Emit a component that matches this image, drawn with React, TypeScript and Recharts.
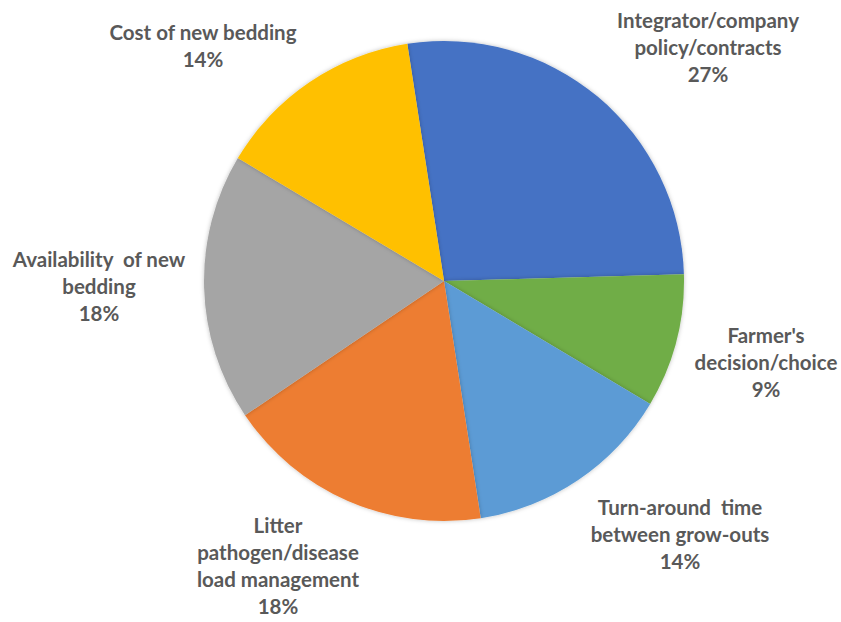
import { Cell, Pie, PieChart } from "recharts";

const categories = [
  "Integrator/company\npolicy/contracts",
  "Farmer's\ndecision/choice",
  "Turn-around  time\nbetween grow-outs",
  "Litter\npathogen/disease\nload management",
  "Availability  of new\nbedding",
  "Cost of new bedding"
];
const shares = [27, 9, 14, 18, 18, 14];
const colors = ["#4472C4", "#70AD47", "#5B9BD5", "#ED7D31", "#A5A5A5", "#FFC000"];

// label block centres, relative to the pie centre
const labelOffsets: [number, number][] = [
  [264, -234],
  [322, 81],
  [236, 253],
  [-166, 284],
  [-345, 5],
  [-241, -236]
];

const data = categories.map((name, i) => ({ name, value: shares[i] }));

const LINE_H = 27;

function renderLabel(props: any) {
  const { cx, cy, index, value } = props;
  const lines = [...categories[index].split("\n"), `${value}%`];
  const [dx, dy] = labelOffsets[index];
  const x = cx + dx;
  const y0 = cy + dy - ((lines.length - 1) * LINE_H) / 2;
  return (
    <text
      key={index}
      x={x}
      y={y0}
      textAnchor="middle"
      dominantBaseline="central"
      fill="#595959"
      fontSize={20.5}
      fontWeight="bold"
      fontFamily="Lato, 'Open Sans', sans-serif"
      style={{ whiteSpace: "pre" }}
    >
      {lines.map((l, i) => (
        <tspan key={i} x={x} y={y0 + i * LINE_H}>
          {l}
        </tspan>
      ))}
    </text>
  );
}

export default function App() {
  return (
    <>
      <style>{`body{margin:0;background:#fff}`}</style>
      <PieChart width={841} height={622} margin={{ top: 0, right: 0, bottom: 0, left: 0 }}>
        <defs>
          <filter id="pieShadow" x="-10%" y="-10%" width="120%" height="120%">
            <feDropShadow dx="0" dy="0" stdDeviation="2" floodColor="#000" floodOpacity="0.25" />
          </filter>
        </defs>
        <Pie
          data={data}
          dataKey="value"
          nameKey="name"
          cx={444}
          cy={281}
          outerRadius={240}
          startAngle={98.8}
          endAngle={-261.2}
          stroke="none"
          label={renderLabel}
          labelLine={false}
          isAnimationActive={false}
          style={{ filter: "url(#pieShadow)" }}
        >
          {data.map((d, i) => (
            <Cell key={d.name} fill={colors[i]} />
          ))}
        </Pie>
      </PieChart>
    </>
  );
}
